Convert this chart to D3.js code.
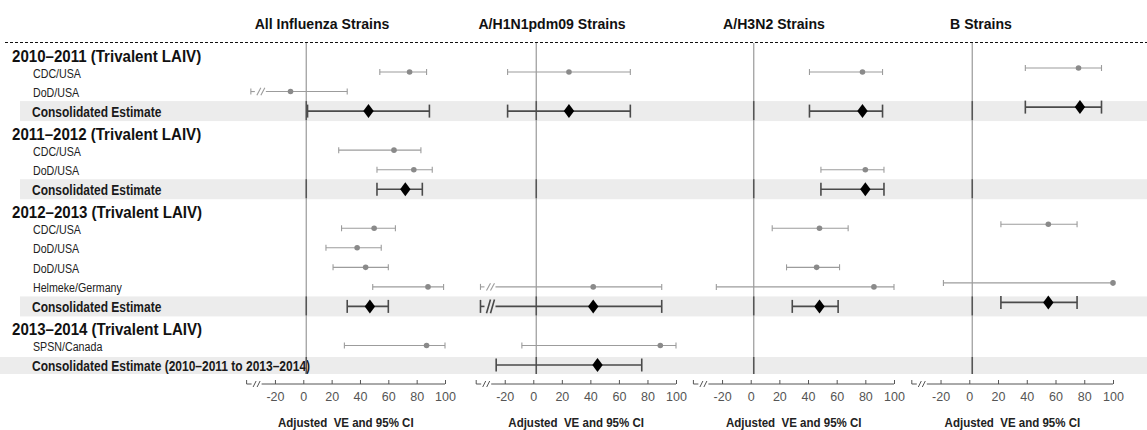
<!DOCTYPE html>
<html>
<head>
<meta charset="utf-8">
<script src="https://cdn.jsdelivr.net/npm/d3@7"></script>
<style>
  body { margin: 0; background: #fff; }
  svg { display: block; font-family: "Liberation Sans", Arial, sans-serif; }
</style>
</head>
<body>
<svg id="chart" width="1147" height="430"></svg>
<script>
const strains = ["All Influenza Strains", "A/H1N1pdm09 Strains", "A/H3N2 Strains", "B Strains"];

const rowLabels = [
  "2010\u20132011 (Trivalent LAIV)", "CDC/USA", "DoD/USA", "Consolidated Estimate",
  "2011\u20132012 (Trivalent LAIV)", "CDC/USA", "DoD/USA", "Consolidated Estimate",
  "2012\u20132013 (Trivalent LAIV)", "CDC/USA", "DoD/USA", "DoD/USA", "Helmeke/Germany", "Consolidated Estimate",
  "2013\u20132014 (Trivalent LAIV)", "SPSN/Canada", "Consolidated Estimate (2010\u20132011 to 2013\u20132014)"
];
const rowKinds = [
  "season", "study", "study", "pooled",
  "season", "study", "study", "pooled",
  "season", "study", "study", "study", "study", "pooled",
  "season", "study", "overall"
];

const ticks = [-20, 0, 20, 40, 60, 80, 100];

// [VE, lower, upper] per row; lower bounds off the left of the axis get a break mark
const allVE = [
  null, [75, 54, 87], [-9, -60, 31], [46, 3, 89],
  null, [64, 25, 83], [78, 52, 91], [72, 52, 84],
  null, [50, 27, 65], [38, 16, 55], [44, 21, 60], [88, 49, 99], [47, 31, 60],
  null, [87, 29, 100], null
];
const h1n1VE = [
  null, [25, -18, 68], null, [25, -18, 68],
  null, null, null, null,
  null, null, null, null, [42, -60, 90], [42, -60, 90],
  null, [89, -8, 100], [45, -26, 76]
];
const h3n2VE = [
  null, [78, 41, 92], null, [78, 41, 92],
  null, null, [80, 49, 93], [80, 49, 93],
  null, [48, 15, 68], null, [46, 25, 62], [86, -24, 100], [48, 29, 61],
  null, null, null
];
const bVE = [
  null, [76, 39, 92], null, [77, 39, 92],
  null, null, null, null,
  null, [55, 22, 75], null, null, [100, -18, 100], [55, 22, 75],
  null, null, null
];

const panelData = [allVE, h1n1VE, h3n2VE, bVE];

// layout of the four panels
const panels = [
  { x0: 246.6, x1: 445,  titleX: 322, dy: 0 },
  { x0: 476.2, x1: 676,  titleX: 552, dy: 0 },
  { x0: 693.4, x1: 894,  titleX: 774, dy: 0 },
  { x0: 911.8, x1: 1113, titleX: 981, dy: -4 }
];

const W = 1147, H = 430;
const axisY = 384, breakAt = -37;
const svg = d3.select("#chart");

const y = d3.scalePoint()
  .domain(d3.range(rowLabels.length))
  .range([52.5, 365]);

function addText(g, x, yy, str, size, weight, sx, anchor) {
  return g.append("text")
    .attr("transform", `translate(${x},${yy}) scale(${sx},1)`)
    .attr("font-size", size)
    .attr("font-weight", weight)
    .attr("text-anchor", anchor || "start")
    .text(str);
}

// grey bands behind consolidated rows
rowKinds.forEach((k, i) => {
  if (k === "pooled") {
    svg.append("rect").attr("x", 20).attr("y", y(i) - 10).attr("width", W - 20).attr("height", 20).attr("fill", "#ececec");
  } else if (k === "overall") {
    svg.append("rect").attr("x", 0).attr("y", y(i) - 8).attr("width", W).attr("height", 17).attr("fill", "#ececec");
  }
});

// top dashed rule
svg.append("line")
  .attr("x1", 5).attr("x2", W).attr("y1", 42.5).attr("y2", 42.5)
  .attr("stroke", "#111").attr("stroke-width", 1.2).attr("stroke-dasharray", "3,2");

// row labels
const lab = svg.append("g");
rowLabels.forEach((t, i) => {
  const k = rowKinds[i];
  if (k === "season") addText(lab, 12, y(i) + 9, t, 17, "bold", 0.887).attr("fill", "#111");
  else if (k === "study") addText(lab, 33, y(i) + 5.5, t, 13.5, "normal", 0.79).attr("fill", "#222");
  else addText(lab, 32, y(i) + 5.5, t, 15, "bold", 0.8).attr("fill", "#1a1a1a");
});

panels.forEach((p, pi) => {
  const x = d3.scaleLinear().domain([-40, 100]).range([p.x0, p.x1]);
  const g = svg.append("g");
  const data = panelData[pi];

  addText(g, p.titleX, 29, strains[pi], 15, "bold", 0.94, "middle").attr("fill", "#111");

  // reference line near zero
  const zx = x(0) + 3;
  g.append("line").attr("x1", zx).attr("x2", zx).attr("y1", 43).attr("y2", 374)
    .attr("stroke", "#a8a8a8").attr("stroke-width", 1.4);
  rowKinds.forEach((k, i) => {
    if (k === "pooled" || k === "overall") {
      g.append("line").attr("x1", zx).attr("x2", zx)
        .attr("y1", y(i) - (k === "overall" ? 8 : 10)).attr("y2", y(i) + 9)
        .attr("stroke", "#555").attr("stroke-width", 1.5);
    }
  });

  // intervals and markers
  data.forEach((d, i) => {
    if (!d) return;
    const pooled = rowKinds[i] !== "study";
    const cy = y(i) + p.dy;
    const col = pooled ? "#4a4a4a" : "#9c9c9c";
    const sw = pooled ? 1.6 : 1.1;
    const capH = pooled ? 6.5 : 3;
    const broken = d[1] < breakAt;
    const xl = broken ? x(breakAt) : x(d[1]);
    const xh = x(d[2]);
    const e = g.append("g").attr("stroke", col).attr("stroke-width", sw).attr("fill", "none");
    if (broken) {
      e.append("line").attr("x1", xl).attr("x2", xl + 4).attr("y1", cy).attr("y2", cy);
      [8, 12].forEach(o => e.append("line")
        .attr("x1", xl + o - 2).attr("x2", xl + o + 2).attr("y1", cy + capH * 0.9 + 1).attr("y2", cy - capH * 0.9 - 1));
      e.append("line").attr("x1", xl + 15).attr("x2", xh).attr("y1", cy).attr("y2", cy);
    } else {
      e.append("line").attr("x1", xl).attr("x2", xh).attr("y1", cy).attr("y2", cy);
    }
    [xl, xh].forEach(cx => e.append("line").attr("x1", cx).attr("x2", cx).attr("y1", cy - capH).attr("y2", cy + capH));
    if (pooled) {
      g.append("path")
        .attr("d", "M0,-7L5.2,0L0,7L-5.2,0Z")
        .attr("transform", `translate(${x(d[0])},${cy})`)
        .attr("fill", "#000");
    } else {
      g.append("circle").attr("cx", x(d[0])).attr("cy", cy).attr("r", 2.8).attr("fill", "#8a8a8a");
    }
  });

  // x axis with a break at its left end
  const ax = g.append("g").attr("transform", `translate(0,${axisY})`)
    .call(d3.axisBottom(x).tickValues(ticks).tickFormat(d => String(d))
      .tickSizeInner(-4).tickSizeOuter(0).tickPadding(8));
  ax.select(".domain").remove();
  ax.selectAll(".tick line").attr("stroke", "#555");
  ax.selectAll(".tick text").attr("font-size", 12.5).attr("fill", "#555")
    .attr("font-family", "\"Liberation Sans\", Arial, sans-serif");
  const a0 = x(-40);
  const br = g.append("g").attr("stroke", "#555").attr("stroke-width", 1).attr("fill", "none");
  br.append("line").attr("x1", a0).attr("x2", a0).attr("y1", axisY).attr("y2", axisY - 4);
  br.append("line").attr("x1", a0).attr("x2", a0 + 5).attr("y1", axisY).attr("y2", axisY);
  [8, 12].forEach(o => br.append("line")
    .attr("x1", a0 + o - 1.5).attr("x2", a0 + o + 1.5).attr("y1", axisY + 3).attr("y2", axisY - 3));
  br.append("line").attr("x1", a0 + 15).attr("x2", x(100)).attr("y1", axisY).attr("y2", axisY);

  addText(g, (p.x0 + p.x1) / 2, 427, "Adjusted  VE and 95% CI", 12, "bold", 0.96, "middle")
    .attr("fill", "#222").attr("xml:space", "preserve").style("white-space", "pre");
});
</script>
</body>
</html>
